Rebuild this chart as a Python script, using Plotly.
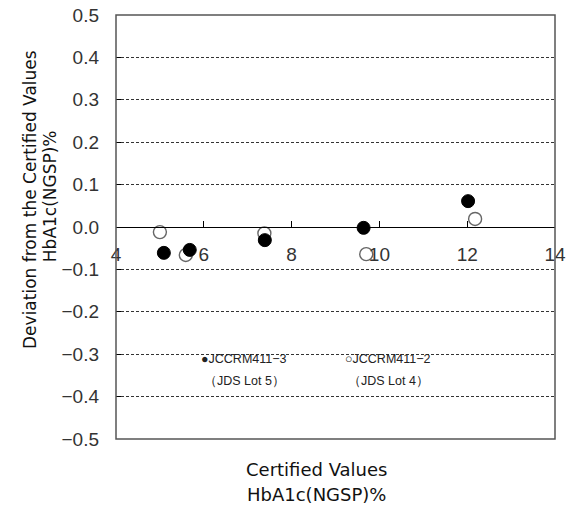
import plotly.graph_objects as go

# Data
x_lot5 = [5.09, 5.68, 7.39, 9.64, 12.02]
y_lot5 = [-0.061, -0.054, -0.031, -0.002, 0.061]
x_lot4 = [5.00, 5.59, 7.38, 9.70, 12.18]
y_lot4 = [-0.012, -0.066, -0.015, -0.064, 0.019]
x_ticks = [4, 6, 8, 10, 12, 14]
y_ticks = [0.5, 0.4, 0.3, 0.2, 0.1, 0.0, -0.1, -0.2, -0.3, -0.4, -0.5]

FONT = "Liberation Sans, Arial, sans-serif"
TITLE_FONT = "DejaVu Sans, Verdana, sans-serif"

fig = go.Figure()
fig.add_trace(go.Scatter(x=x_lot4, y=y_lot4, mode="markers", name="JCCRM411-2",
                         marker=dict(size=13, color="white", line=dict(color="#666666", width=1.4))))
fig.add_trace(go.Scatter(x=x_lot5, y=y_lot5, mode="markers", name="JCCRM411-3",
                         marker=dict(size=13, color="black", line=dict(color="black", width=1))))

fig.update_layout(
    width=570, height=514,
    margin=dict(l=116, r=15, t=15, b=75, autoexpand=False),
    plot_bgcolor="white", paper_bgcolor="white",
    showlegend=False,
    font=dict(family=FONT, size=15, color="#222222"),
    xaxis=dict(range=[4, 14], tickvals=x_ticks, anchor="free", position=0.5,
               showline=True, linecolor="black", linewidth=1.3,
               ticks="inside", ticklen=6, tickcolor="black",
               showgrid=False, zeroline=False, automargin=False,
               ticklabeloverflow="allow", ticklabelstandoff=10,
               tickfont=dict(size=19, color="#333333")),
    yaxis=dict(range=[-0.5, 0.5], tickvals=y_ticks, tickformat=".1f",
               showline=False, ticks="inside", ticklen=5, tickcolor="black",
               showgrid=True, gridcolor="#333333", griddash="3px,2px", gridwidth=1,
               zeroline=False, ticklabelstandoff=16, automargin=False,
               ticklabeloverflow="allow",
               tickfont=dict(size=19, color="#333333")),
)

# frame
fig.add_shape(type="rect", xref="paper", yref="paper", x0=0, y0=0, x1=1, y1=1,
              line=dict(color="#555555", width=1.5), layer="above")
# white backdrop behind legend text
fig.add_shape(type="rect", xref="x", yref="y", x0=4.92, x1=12.42, y0=-0.45, y1=-0.25,
              fillcolor="white", line=dict(width=0), layer="below")

# legend texts
leg_font = dict(family=FONT, size=12.5, color="#222222")
fig.add_annotation(x=5.886, y=-0.311, xref="x", yref="y", showarrow=False,
                   xanchor="left", yanchor="middle", text="●JCCRM411−3", font=leg_font)
fig.add_annotation(x=5.95, y=-0.363, xref="x", yref="y", showarrow=False,
                   xanchor="left", yanchor="middle", text="（JDS Lot 5）", font=leg_font)
fig.add_annotation(x=9.18, y=-0.311, xref="x", yref="y", showarrow=False,
                   xanchor="left", yanchor="middle", text="○JCCRM411−2", font=leg_font)
fig.add_annotation(x=9.25, y=-0.363, xref="x", yref="y", showarrow=False,
                   xanchor="left", yanchor="middle", text="（JDS Lot 4）", font=leg_font)

# axis titles
fig.add_annotation(x=0.4565, y=-0.073, xref="paper", yref="paper", showarrow=False,
                   xanchor="center", yanchor="middle",
                   text="Certified Values", font=dict(family=TITLE_FONT, size=18, color="#111111"))
fig.add_annotation(x=0.4565, y=-0.132, xref="paper", yref="paper", showarrow=False,
                   xanchor="center", yanchor="middle",
                   text="HbA1c(NGSP)%", font=dict(family=TITLE_FONT, size=18, color="#111111"))
fig.add_annotation(x=-0.196, y=0.566, xref="paper", yref="paper", showarrow=False,
                   xanchor="center", yanchor="middle", align="center", textangle=-90,
                   text="Deviation from the Certified Values",
                   font=dict(family=TITLE_FONT, size=17, color="#111111"))
fig.add_annotation(x=-0.150, y=0.573, xref="paper", yref="paper", showarrow=False,
                   xanchor="center", yanchor="middle", align="center", textangle=-90,
                   text="HbA1c(NGSP)%",
                   font=dict(family=TITLE_FONT, size=17, color="#111111"))

fig.write_html("out.html", config={"displayModeBar": False},
               post_script="document.body.style.margin='0px';")
